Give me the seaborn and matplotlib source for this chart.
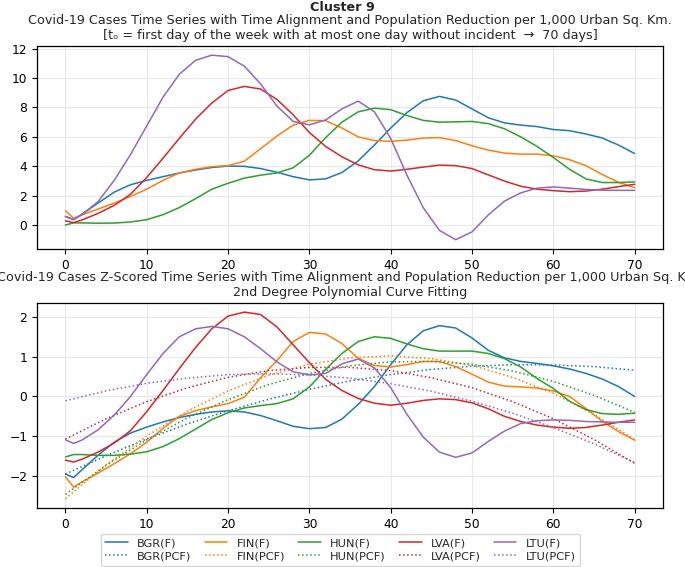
import numpy as np
import pandas as pd
import matplotlib
matplotlib.use("Agg")
import matplotlib.pyplot as plt
import seaborn as sns

# -----------------------------
# data
# -----------------------------
countries = ["BGR", "FIN", "HUN", "LVA", "LTU"]
colors = ["#1f77b4", "#ff7f0e", "#2ca02c", "#d62728", "#9467bd"]

days = [0, 1, 2, 4, 6, 8, 10, 12, 14, 16, 18, 20, 22, 24, 26, 28, 30, 32, 34,
        36, 38, 40, 42, 44, 46, 48, 50, 52, 54, 56, 58, 60, 62, 64, 66, 68, 70]

# cases per 1,000 urban sq. km (top panel)
bgr_f = [0.6, 0.38, 0.75, 1.5, 2.25, 2.75, 3.05, 3.3, 3.55, 3.75, 3.92, 4.02, 4.0,
         3.85, 3.6, 3.3, 3.08, 3.15, 3.58, 4.37, 5.45, 6.6, 7.65, 8.45, 8.75, 8.5,
         7.9, 7.3, 6.95, 6.8, 6.7, 6.5, 6.42, 6.2, 5.93, 5.45, 4.87]
fin_f = [0.98, 0.48, 0.7, 1.1, 1.5, 1.95, 2.45, 3.05, 3.55, 3.8, 3.98, 4.05, 4.35,
         5.2, 6.05, 6.8, 7.12, 7.1, 6.6, 6.0, 5.75, 5.7, 5.78, 5.92, 5.95, 5.75,
         5.4, 5.1, 4.9, 4.83, 4.83, 4.72, 4.45, 4.05, 3.45, 2.92, 2.55]
hun_f = [0.02, 0.16, 0.16, 0.14, 0.15, 0.22, 0.38, 0.72, 1.2, 1.8, 2.45, 2.85, 3.2,
         3.4, 3.55, 3.9, 4.75, 5.95, 7.0, 7.7, 7.95, 7.85, 7.45, 7.12, 7.0, 7.02,
         7.05, 6.9, 6.55, 6.0, 5.35, 4.6, 3.8, 3.15, 2.9, 2.9, 2.94]
lva_f = [0.3, 0.18, 0.35, 0.8, 1.35, 2.1, 3.25, 4.55, 5.9, 7.2, 8.3, 9.15, 9.43,
         9.25, 8.55, 7.5, 6.3, 5.35, 4.65, 4.1, 3.77, 3.68, 3.8, 3.95, 4.08, 4.05,
         3.85, 3.42, 3.0, 2.65, 2.45, 2.35, 2.28, 2.32, 2.45, 2.62, 2.78]
ltu_f = [0.6, 0.39, 0.7, 1.6, 3.05, 4.8, 6.75, 8.7, 10.25, 11.2, 11.55, 11.45, 10.8,
         9.6, 8.1, 7.05, 6.82, 7.15, 7.9, 8.43, 7.7, 5.9, 3.4, 1.2, -0.35, -0.98,
         -0.45, 0.7, 1.64, 2.2, 2.52, 2.6, 2.52, 2.43, 2.38, 2.37, 2.37]

# z-scored series (bottom panel)
bgr_z = [-1.95, -2.04, -1.85, -1.48, -1.15, -0.92, -0.77, -0.64, -0.53, -0.45, -0.39,
         -0.36, -0.39, -0.48, -0.61, -0.75, -0.81, -0.78, -0.57, -0.2, 0.25, 0.8, 1.3,
         1.65, 1.78, 1.72, 1.47, 1.16, 0.97, 0.88, 0.83, 0.77, 0.69, 0.58, 0.44, 0.25, 0.0]
fin_z = [-2.02, -2.28, -2.15, -1.93, -1.69, -1.44, -1.15, -0.8, -0.5, -0.36, -0.26,
         -0.18, -0.02, 0.47, 0.9, 1.38, 1.61, 1.57, 1.33, 0.96, 0.78, 0.74, 0.8, 0.88,
         0.88, 0.75, 0.56, 0.36, 0.26, 0.24, 0.21, 0.14, 0.0, -0.3, -0.62, -0.88, -1.1]
hun_z = [-1.52, -1.46, -1.46, -1.48, -1.48, -1.45, -1.39, -1.26, -1.06, -0.82, -0.58,
         -0.41, -0.29, -0.23, -0.18, -0.06, 0.24, 0.68, 1.08, 1.38, 1.5, 1.46, 1.32,
         1.2, 1.14, 1.14, 1.14, 1.08, 0.95, 0.74, 0.45, 0.2, -0.12, -0.33, -0.43, -0.45, -0.42]
lva_z = [-1.6, -1.65, -1.58, -1.4, -1.17, -0.86, -0.38, 0.15, 0.7, 1.23, 1.7, 2.02,
         2.12, 2.06, 1.75, 1.3, 0.85, 0.43, 0.15, -0.05, -0.17, -0.22, -0.17, -0.1,
         -0.06, -0.08, -0.16, -0.31, -0.5, -0.63, -0.72, -0.77, -0.8, -0.78, -0.72,
         -0.65, -0.59]
ltu_z = [-1.09, -1.18, -1.1, -0.84, -0.47, 0.0, 0.55, 1.08, 1.5, 1.7, 1.76, 1.7, 1.5,
         1.2, 0.87, 0.62, 0.54, 0.58, 0.82, 0.94, 0.72, 0.22, -0.45, -1.02, -1.4,
         -1.53, -1.42, -1.13, -0.87, -0.68, -0.61, -0.59, -0.6, -0.63, -0.64, -0.65, -0.65]

# 2nd degree polynomial fits, read every 5 days
pcf_days = [0, 5, 10, 15, 20, 25, 30, 35, 40, 45, 50, 55, 60, 65, 70]
bgr_pcf = [-1.95, -1.49, -1.07, -0.69, -0.36, -0.07, 0.18, 0.39, 0.55, 0.68, 0.76,
           0.8, 0.79, 0.75, 0.66]
fin_pcf = [-2.57, -1.72, -0.99, -0.37, 0.14, 0.53, 0.81, 0.97, 1.02, 0.95, 0.78,
           0.48, 0.08, -0.45, -1.08]
hun_pcf = [-2.46, -1.73, -1.09, -0.54, -0.08, 0.3, 0.58, 0.77, 0.87, 0.88, 0.81,
           0.64, 0.38, 0.03, -0.4]
lva_pcf = [-1.07, -0.56, -0.13, 0.22, 0.48, 0.65, 0.73, 0.73, 0.65, 0.47, 0.22,
           -0.13, -0.56, -1.08, -1.68]
ltu_pcf = [-0.11, 0.14, 0.33, 0.46, 0.55, 0.57, 0.54, 0.46, 0.32, 0.13, -0.12,
           -0.42, -0.78, -1.19, -1.66]

top_series = [bgr_f, fin_f, hun_f, lva_f, ltu_f]
z_series = [bgr_z, fin_z, hun_z, lva_z, ltu_z]
pcf_series = [bgr_pcf, fin_pcf, hun_pcf, lva_pcf, ltu_pcf]

# -----------------------------
# plot
# -----------------------------
sns.set_style("ticks")
plt.rcParams["font.family"] = ["DejaVu Sans"]
plt.rcParams["axes.edgecolor"] = "black"
plt.rcParams["xtick.color"] = "black"
plt.rcParams["ytick.color"] = "black"

fig = plt.figure(figsize=(6.85, 5.67), dpi=100)
ax1 = fig.add_axes([0.054, 0.561, 0.914, 0.358])
ax2 = fig.add_axes([0.054, 0.104, 0.914, 0.362])

for name, vals, c in zip(countries, top_series, colors):
    sns.lineplot(x=days, y=vals, ax=ax1, color=c, linewidth=1.1, legend=False)

for name, zv, pv, c in zip(countries, z_series, pcf_series, colors):
    sns.lineplot(x=days, y=zv, ax=ax2, color=c, linewidth=1.1, label=name + "(F)")
    sns.lineplot(x=pcf_days, y=pv, ax=ax2, color=c, linewidth=1.1, linestyle=":",
                 label=name + "(PCF)")

for ax in (ax1, ax2):
    ax.grid(True, color="#e8e8e8", linewidth=0.8)
    ax.set_axisbelow(True)
    ax.tick_params(labelsize=8.8, length=3.5, width=0.8)
    ax.set_xticks([0, 10, 20, 30, 40, 50, 60, 70])
    for s in ax.spines.values():
        s.set_linewidth(0.9)

ax1.set_yticks([0, 2, 4, 6, 8, 10, 12])
ax2.set_yticks([-2, -1, 0, 1, 2])

ax1.set_title("Covid-19 Cases Time Series with Time Alignment and Population Reduction per 1,000 Urban Sq. Km.\n"
              "[t\u2092 = first day of the week with at most one day without incident  \u2192  70 days]",
              fontsize=9.2, pad=5)
# long title runs past the figure edge, as in the reference
ax2.set_title("Covid-19 Cases Z-Scored Time Series with Time Alignment and Population Reduction per 1,000 Urban Sq. Km.\n"
              "2nd Degree Polynomial Curve Fitting", fontsize=9.2, pad=5)
fig.text(0.5, 0.987, "Cluster 9", ha="center", va="center", fontsize=9.2, fontweight="bold")

handles, labels = ax2.get_legend_handles_labels()
if ax2.get_legend() is not None:
    ax2.get_legend().remove()
fig.legend(handles, labels, loc="lower center", bbox_to_anchor=(0.497, 0.002),
           ncol=5, fontsize=8.2, borderaxespad=0, columnspacing=1.15, handlelength=2.0,
           labelspacing=0.25)

fig.savefig("out.png", dpi=100)
